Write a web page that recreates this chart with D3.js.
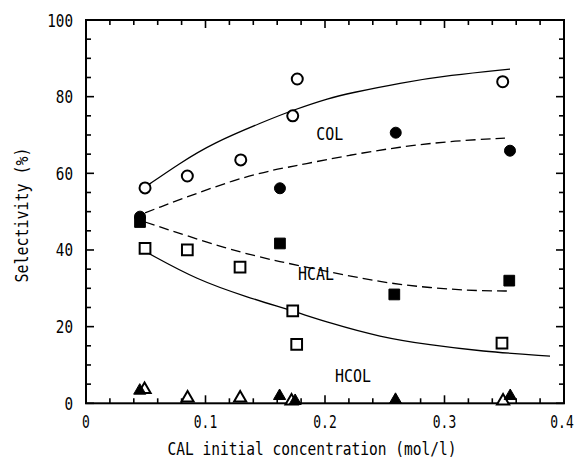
<!DOCTYPE html>
<html><head><meta charset="utf-8">
<script src="https://cdn.jsdelivr.net/npm/d3@7"></script>
<style>
body{margin:0;background:#fff;}
svg{display:block;}
</style></head>
<body>
<script>
// ---- data ----
const xTicks = [0, 0.1, 0.2, 0.3, 0.4];
const xTickLabels = ["0", "0.1", "0.2", "0.3", "0.4"];
const yTicks = [0, 20, 40, 60, 80, 100];
const yTickLabels = ["0", "20", "40", "60", "80", "100"];

// COL (circles)
const colOpenX = [0.0494, 0.0848, 0.1295, 0.173, 0.1768, 0.3487];
const colOpenY = [56.2, 59.3, 63.5, 75.0, 84.6, 83.9];
const colFilledX = [0.0452, 0.1623, 0.2592, 0.3548];
const colFilledY = [48.7, 56.1, 70.6, 65.9];
// HCAL (squares)
const hcalFilledX = [0.0452, 0.1623, 0.258, 0.3542];
const hcalFilledY = [47.3, 41.7, 28.4, 32.0];
const hcalOpenX = [0.0494, 0.0848, 0.1289, 0.173, 0.1763, 0.3481];
const hcalOpenY = [40.4, 40.0, 35.5, 24.1, 15.4, 15.7];
// HCOL (triangles)
const hcolFilledX = [0.045, 0.162, 0.175, 0.259, 0.355];
const hcolFilledY = [3.3, 1.9, 0.6, 0.9, 1.9];
const hcolOpenX = [0.049, 0.085, 0.129, 0.172, 0.349];
const hcolOpenY = [3.6, 1.4, 1.4, 0.6, 0.6];

// fitted curves
const colSolidX = [0.0494, 0.0787, 0.1063, 0.1481, 0.1732, 0.2042, 0.2209, 0.2628, 0.3046, 0.3548];
const colSolidY = [56.4, 62.7, 67.9, 73.4, 76.5, 79.7, 80.9, 83.6, 85.6, 87.2];
const colDashX = [0.0494, 0.1289, 0.1707, 0.1791, 0.2209, 0.2628, 0.3046, 0.3506];
const colDashY = [49.7, 59.1, 61.7, 62.2, 64.8, 66.9, 68.4, 69.2];
const hcalDashX = [0.0494, 0.1205, 0.1623, 0.2042, 0.2460, 0.2879, 0.3297, 0.3548];
const hcalDashY = [47.3, 40.0, 36.9, 34.3, 31.6, 30.1, 29.3, 29.3];
const hcalSolidX = [0.0519, 0.0929, 0.1347, 0.1732, 0.2042, 0.2460, 0.2879, 0.3297, 0.3883];
const hcalSolidY = [39.2, 32.2, 27.7, 24.1, 20.9, 17.3, 15.2, 13.6, 12.3];

const labels = [
  {text: "COL", x: 0.204, y: 68.6},
  {text: "HCAL", x: 0.1925, y: 32.1},
  {text: "HCOL", x: 0.2235, y: 5.6}
];

// ---- layout ----
const W = 578, H = 461;
const L = 86, R = 564, T = 20, B = 403.3;
const FONT = "'DejaVu Sans Mono', 'Liberation Mono', monospace";

const svg = d3.select("body").append("svg").attr("width", W).attr("height", H);
const x = d3.scaleLinear().domain([0, 0.4]).range([L, R]);
const y = d3.scaleLinear().domain([0, 100]).range([B, T]);

// monospace text horizontally condensed to a target character width
function mtext(str, size, cw, tx, ty, anchor, rot) {
  const s = cw / (0.602 * size);
  return svg.append("text").text(str)
    .attr("font-family", FONT).attr("font-size", size)
    .attr("text-anchor", anchor)
    .attr("transform", `translate(${tx},${ty})` + (rot ? ` rotate(${rot})` : "") + ` scale(${s.toFixed(3)},1)`);
}

// ---- curves ----
function curve(xs, ys, dash) {
  const pts = xs.map((v, i) => [v, ys[i]]);
  svg.append("path")
    .attr("d", d3.line().x(d => x(d[0])).y(d => y(d[1])).curve(d3.curveBasis)(pts))
    .attr("fill", "none").attr("stroke", "#000").attr("stroke-width", 1.3)
    .attr("stroke-dasharray", dash ? "10,5" : null);
}
curve(colSolidX, colSolidY, false);
curve(colDashX, colDashY, true);
curve(hcalDashX, hcalDashY, true);
curve(hcalSolidX, hcalSolidY, false);

// ---- axes ----
const minorX = d3.range(0, 0.4001, 0.02);
const minorY = d3.range(0, 100.01, 5);
const axG = svg.append("g");
axG.append("rect").attr("x", L).attr("y", T).attr("width", R - L).attr("height", B - T)
  .attr("fill", "none").attr("stroke", "#000").attr("stroke-width", 2);
minorX.forEach(v => {
  const major = Math.abs(v * 10 - Math.round(v * 10)) < 1e-6;
  const len = major ? 8 : 5;
  axG.append("line").attr("x1", x(v)).attr("x2", x(v)).attr("y1", B).attr("y2", B - len).attr("stroke", "#000").attr("stroke-width", 1.6);
  axG.append("line").attr("x1", x(v)).attr("x2", x(v)).attr("y1", T).attr("y2", T + len).attr("stroke", "#000").attr("stroke-width", 1.6);
});
minorY.forEach(v => {
  const major = v % 20 === 0;
  const len = major ? 8 : 5;
  axG.append("line").attr("x1", L).attr("x2", L + len).attr("y1", y(v)).attr("y2", y(v)).attr("stroke", "#000").attr("stroke-width", 1.6);
  axG.append("line").attr("x1", R).attr("x2", R - len).attr("y1", y(v)).attr("y2", y(v)).attr("stroke", "#000").attr("stroke-width", 1.6);
});
xTicks.forEach((v, i) => {
  const cx = Math.min(x(v), W - 16);
  mtext(xTickLabels[i], 18, 7.8, cx, 428, "middle");
});
yTicks.forEach((v, i) => {
  mtext(yTickLabels[i], 18, 8.6, 73, y(v) + 6.5, "end");
});

// axis titles
mtext("CAL initial concentration (mol/l)", 18, 8.76, (L + R) / 2 - 13, 455, "middle");
mtext("Selectivity (%)", 18, 9, 28, 215, "middle", -90);

// series labels
labels.forEach(l => {
  mtext(l.text, 17, 9, x(l.x), y(l.y), "middle");
});

// ---- markers ----
function markers(xs, ys, type, filled) {
  const sym = d3.symbol().type(type).size(type === d3.symbolTriangle ? 64 : (type === d3.symbolSquare ? 115 : 95));
  svg.append("g").selectAll("path").data(xs.map((v, i) => [v, ys[i]])).join("path")
    .attr("d", sym)
    .attr("transform", d => `translate(${x(d[0])},${y(d[1])})`)
    .attr("fill", filled ? "#000" : "#fff")
    .attr("stroke", "#000").attr("stroke-width", filled ? 1 : 2);
}
markers(colOpenX, colOpenY, d3.symbolCircle, false);
markers(hcalOpenX, hcalOpenY, d3.symbolSquare, false);
markers(hcolOpenX, hcolOpenY, d3.symbolTriangle, false);
markers(colFilledX, colFilledY, d3.symbolCircle, true);
markers(hcalFilledX, hcalFilledY, d3.symbolSquare, true);
markers(hcolFilledX, hcolFilledY, d3.symbolTriangle, true);
</script>
</body></html>
